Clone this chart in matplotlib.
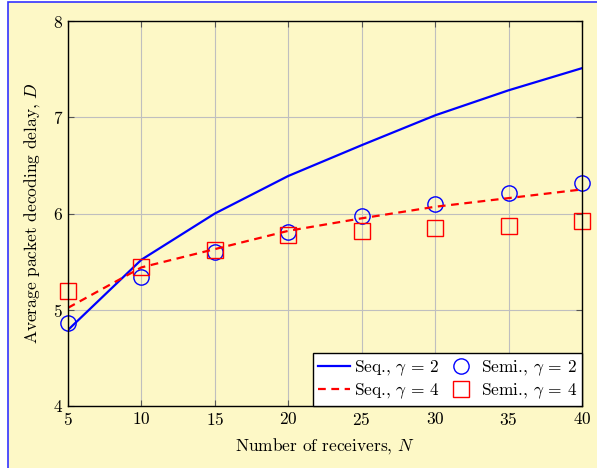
import matplotlib
matplotlib.use("Agg")
import matplotlib.pyplot as plt
from matplotlib.patches import Rectangle

plt.rcParams['font.family'] = ['cmr10']
plt.rcParams['mathtext.fontset'] = 'cm'
plt.rcParams['axes.formatter.use_mathtext'] = True
plt.rcParams['font.size'] = 12.5

# number of receivers
N = [5, 10, 15, 20, 25, 30, 35, 40]

# sequential scheme
seq_g2 = [4.79, 5.52, 6.00, 6.39, 6.71, 7.02, 7.28, 7.51]
seq_g4 = [5.02, 5.44, 5.63, 5.82, 5.95, 6.07, 6.16, 6.25]

# semi-sequential scheme
semi_g2 = [4.86, 5.34, 5.60, 5.81, 5.97, 6.10, 6.21, 6.32]
semi_g4 = [5.20, 5.44, 5.62, 5.78, 5.82, 5.85, 5.87, 5.92]

bg = '#fdf8c6'

fig = plt.figure(figsize=(5.97, 4.68), dpi=100)
fig.patch.set_facecolor('white')
fig.patches.append(Rectangle((8 / 597, -0.01), 1.0, 1 - 2 / 468 + 0.01,
                             transform=fig.transFigure, facecolor=bg,
                             edgecolor='#3333ff', linewidth=1.2, zorder=-10))

ax = fig.add_axes([68 / 597, 1 - 406 / 468, (582 - 68) / 597, (406 - 21) / 468])
ax.set_facecolor(bg)

ax.plot(N, seq_g2, color='blue', lw=1.6, label=r'Seq., $\gamma$ = 2')
ax.plot(N, semi_g2, 'o', ms=11, mfc='none', mec='blue', mew=1.0,
        label=r'Semi., $\gamma$ = 2', clip_on=False)
ax.plot(N, seq_g4, color='red', lw=1.6, ls=(0, (3.5, 2.5)), label=r'Seq., $\gamma$ = 4')
ax.plot(N, semi_g4, 's', ms=11, mfc='none', mec='red', mew=1.0,
        label=r'Semi., $\gamma$ = 4', clip_on=False)

ax.set_xlim(5, 40)
ax.set_ylim(4, 8)
ax.set_xticks(N)
ax.set_yticks([4, 5, 6, 7, 8])
ax.grid(True, color='#bfbfbf', lw=0.8)
ax.tick_params(direction='in', top=True, right=True, length=4, color='#555555')
for s in ax.spines.values():
    s.set_linewidth(1.0)

ax.set_xlabel(r'Number of receivers, $N$', labelpad=6)
ax.set_ylabel(r'Average packet decoding delay, $D$', labelpad=8)

handles, labels = ax.get_legend_handles_labels()
order = [0, 2, 1, 3]
leg = ax.legend([handles[i] for i in order], [labels[i] for i in order],
                ncol=2, loc='lower right', fancybox=False, framealpha=1,
                edgecolor='black', handlelength=1.8, handletextpad=0.25,
                columnspacing=0.3, borderpad=0.3, labelspacing=0.2,
                borderaxespad=0)
leg.get_frame().set_linewidth(1.0)
leg.set_zorder(5)

fig.savefig('out.png', dpi=100)
